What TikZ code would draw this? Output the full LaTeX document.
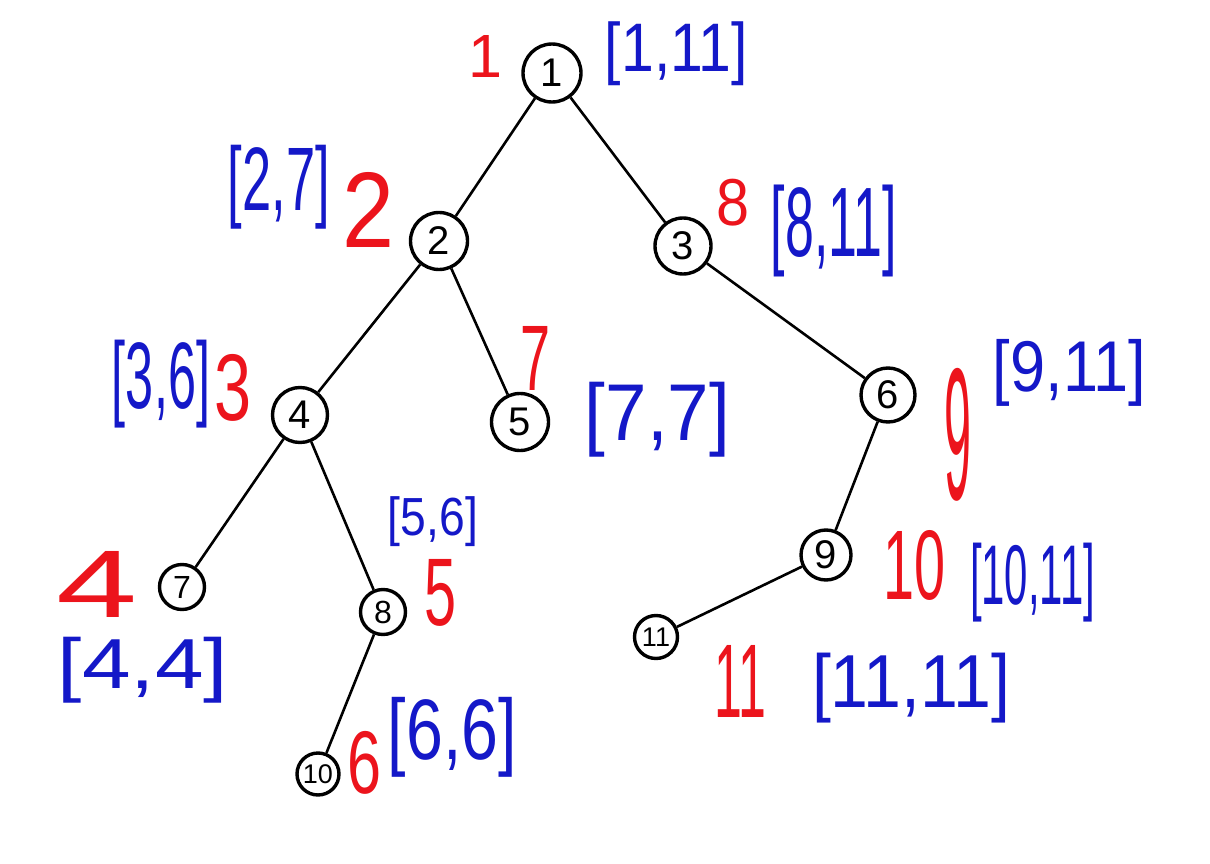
\documentclass[tikz,border=0pt]{standalone}
\usepackage{fontspec}
\setmainfont{Liberation Sans}
\usepackage{graphicx}
\definecolor{pred}{RGB}{236,20,28}
\definecolor{pblue}{RGB}{20,24,200}
\newcommand\fitbox[3]{\resizebox*{#1pt}{#2pt}{#3}}
\newcommand\fith[2]{\resizebox*{!}{#1pt}{#2}}
\begin{document}
\begin{tikzpicture}[x=1pt,y=-1pt,
  tnode/.style={circle,draw=black,line width=3.4pt,inner sep=0pt,fill=white,
    font=\fontsize{40}{40}\selectfont},
  small/.style={font=\fontsize{32}{32}\selectfont},
  tiny/.style={font=\fontsize{27}{27}\selectfont},
  edge/.style={line width=2.6pt,black},
  rlab/.style={inner sep=0pt,text=pred},
  blab/.style={inner sep=0pt,text=pblue}]
\useasboundingbox[fill=white] (0,0) rectangle (1210,864);
% tree nodes
\node[tnode,minimum size=58pt] (n1) at (552,73) {1};
\node[tnode,minimum size=57pt] (n2) at (439,241) {2};
\node[tnode,minimum size=56pt] (n3) at (683,246) {3};
\node[tnode,minimum size=55pt] (n4) at (300,415) {4};
\node[tnode,minimum size=57pt] (n5) at (520,422) {5};
\node[tnode,minimum size=54pt] (n6) at (888,395) {6};
\node[tnode,small,minimum size=45pt] (n7) at (182,587) {7};
\node[tnode,small,minimum size=45pt] (n8) at (383,612) {8};
\node[tnode,minimum size=50pt] (n9) at (826,555) {9};
\node[tnode,tiny,minimum size=42pt] (n10) at (318,774) {10};
\node[tnode,tiny,minimum size=43pt] (n11) at (656,637) {11};
% edges
\draw[edge] (n1) -- (n2);
\draw[edge] (n1) -- (n3);
\draw[edge] (n2) -- (n4);
\draw[edge] (n2) -- (n5);
\draw[edge] (n3) -- (n6);
\draw[edge] (n4) -- (n7);
\draw[edge] (n4) -- (n8);
\draw[edge] (n8) -- (n10);
\draw[edge] (n6) -- (n9);
\draw[edge] (n9) -- (n11);
% red dfs order labels
\node[rlab] (r1) at (485,56) {\fith{42}{1}};
\node[rlab] (r2) at (369,210) {\fitbox{52}{75}{2}};
\node[rlab] (r3) at (233,388) {\fitbox{37}{67}{3}};
\node[rlab] (r4) at (97,584) {\fitbox{81}{66}{4}};
\node[rlab] (r5) at (441,593) {\fitbox{32}{67}{5}};
\node[rlab] (r6) at (365,763) {\fitbox{34}{63}{6}};
\node[rlab] (r7) at (535,358) {\fitbox{30}{64}{7}};
\node[rlab] (r8) at (733,203) {\fitbox{33}{47}{8}};
\node[rlab] (r9) at (958,435) {\fitbox{27}{133}{9}};
\node[rlab] (r10) at (914,565) {\fitbox{62}{70}{10}};
\node[rlab] (r11) at (740,681) {\fitbox{52}{72}{11}};
% blue interval labels
\node[blab] (b1) at (676.5,54) {\fitbox{143}{64}{[1,11]}};
\node[blab] (b2) at (279,187) {\fitbox{102}{84}{[2,7]}};
\node[blab] (b3) at (834,231) {\fitbox{126}{92}{[8,11]}};
\node[blab] (b4) at (161,384) {\fitbox{98}{88}{[3,6]}};
\node[blab] (b5) at (657.5,419.5) {\fitbox{145}{75}{[7,7]}};
\node[blab] (b6) at (1069.5,373) {\fitbox{153}{67}{[9,11]}};
\node[blab] (b7) at (143,670) {\fitbox{170}{66}{[4,4]}};
\node[blab] (b8) at (433,522) {\fitbox{90}{50}{[5,6]}};
\node[blab] (b9) at (452.5,737) {\fitbox{129}{80}{[6,6]}};
\node[blab] (b10) at (1032.5,582.5) {\fitbox{125}{79}{[10,11]}};
\node[blab] (b11) at (911,688) {\fitbox{198}{70}{[11,11]}};
\end{tikzpicture}
\end{document}
